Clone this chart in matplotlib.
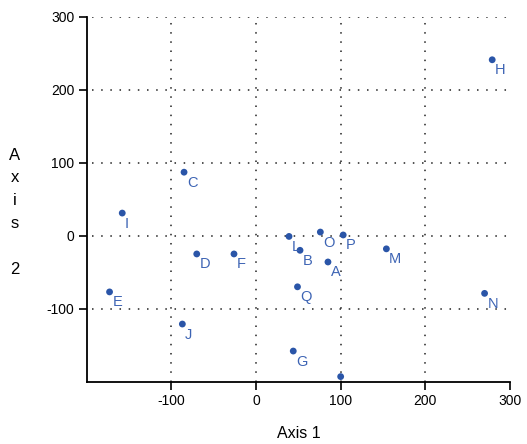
import numpy as np
import matplotlib.pyplot as plt

# ordination scores
labels = ["A", "B", "C", "D", "E", "F", "G", "H", "I", "J",
          "L", "M", "N", "O", "P", "Q", ""]
axis1 = [85, 52, -85, -70, -173, -26, 44, 279, -158, -87,
         39, 154, 270, 76, 103, 49, 100]
axis2 = [-36, -20, 87, -25, -77, -25, -158, 241, 31, -121,
         -1, -18, -79, 5, 1, -70, -193]

xticks = [-100, 0, 100, 200, 300]
yticks = [-100, 0, 100, 200, 300]

plt.rcParams['font.family'] = ['Liberation Sans', 'DejaVu Sans']
plt.rcParams['axes.unicode_minus'] = False

fig = plt.figure(figsize=(5.27, 4.44), dpi=100)
ax = fig.add_axes([0.1645, 0.1403, 0.8032, 0.8221])

# dotted grid
for x in [-100, 0, 100, 200]:
    ax.plot([x, x], [-200, 296], color='#222222', linestyle=(0, (1, 5)),
            linewidth=1.1, zorder=1)
for y in yticks:
    ax.plot([-194, 300], [y, y], color='#222222', linestyle=(0, (1, 5)),
            linewidth=1.1, zorder=1)

ax.scatter(axis1, axis2, s=24, color='#2a55a8', zorder=3, edgecolors='none')
for lab, x, y in zip(labels, axis1, axis2):
    ax.annotate(lab, (x, y), xytext=(2, -2.5), textcoords='offset points',
                ha='left', va='top', fontsize=10.5, color='#3d64b4', zorder=4)

ax.set_xlim(-200, 300)
ax.set_ylim(-200, 300)
ax.set_xticks(xticks)
ax.set_yticks(yticks)
ax.tick_params(direction='out', length=6, width=1.2, labelsize=10,
               colors='black', pad=3)
for side in ['top', 'right']:
    ax.spines[side].set_visible(False)
for side in ['left', 'bottom']:
    ax.spines[side].set_linewidth(1.3)

ax.set_xlabel("Axis 1", fontsize=11.5, labelpad=13)
fig.text(15 / 527, 1 - 212 / 444, "A\nx\ni\ns\n\n2", ha='center', va='center',
         fontsize=12, linespacing=1.65)

fig.savefig("out.png", dpi=100)
